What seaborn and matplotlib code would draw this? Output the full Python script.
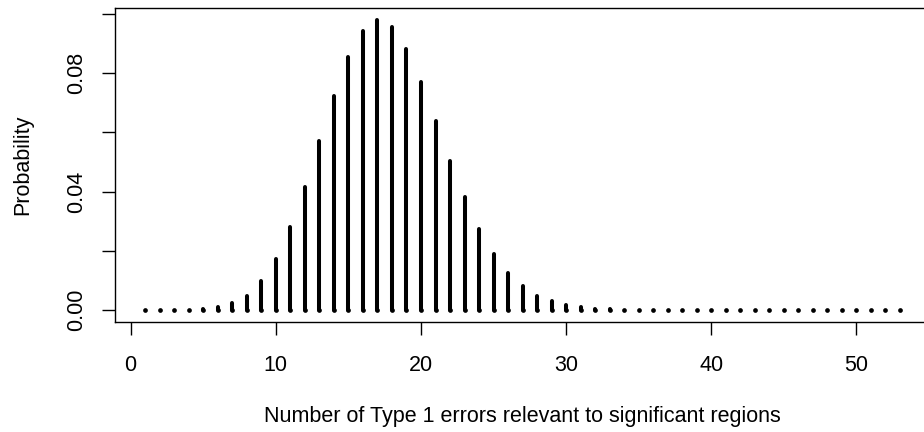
import numpy as np
import pandas as pd
import matplotlib
matplotlib.use("Agg")
import matplotlib.pyplot as plt
import seaborn as sns

# ---- data ----
errors = list(range(1, 54))
probability = [
    0.00001, 0.00002, 0.00005, 0.00015, 0.0004, 0.0011, 0.0025, 0.0049, 0.0097, 0.0172,
    0.0279, 0.0415, 0.0569, 0.0721, 0.0853, 0.0943, 0.0979, 0.0956, 0.0881, 0.0770,
    0.0639, 0.0504, 0.0380, 0.0273, 0.0189, 0.0125, 0.0080, 0.0049, 0.0029, 0.0017,
    0.0009, 0.0005, 0.00025, 0.00012, 0.00005, 0.00002, 0.00001, 0.00001, 0.00001, 0.00001,
    0.00001, 0.00001, 0.00001, 0.00001, 0.00001, 0.00001, 0.00001, 0.00001, 0.00001, 0.00001,
    0.00001, 0.00001, 0.00001,
]
x_ticks = [0, 10, 20, 30, 40, 50]
y_ticks = [0.00, 0.02, 0.04, 0.06, 0.08, 0.10]
y_ticklabels = ["0.00", "", "0.04", "", "0.08", ""]
x_label = "Number of Type 1 errors relevant to significant regions"
y_label = "Probability"

# long-form table: each x gives a vertical segment from 0 to its probability
df = pd.DataFrame({
    "x": errors + errors,
    "y": [0.0] * len(errors) + probability,
    "unit": errors + errors,
})
base = pd.DataFrame({"x": errors, "y": [0.0] * len(errors)})

sns.set_style("white")
plt.rcParams["font.family"] = ["Liberation Sans", "DejaVu Sans"]
plt.rcParams["path.simplify"] = False
FS = 15.5
LW = 2.9

W, H = 924, 432
fig = plt.figure(figsize=(W / 100, H / 100), dpi=100)
left_px, right_px, top_px, bottom_px = 115.0, 930.2, 8.3, 321.7
ax = fig.add_axes([left_px / W, (H - bottom_px) / H,
                   (right_px - left_px) / W, (bottom_px - top_px) / H])

sns.lineplot(data=df, x="x", y="y", units="unit", estimator=None, sort=False,
             color="black", lw=LW, solid_capstyle="round", legend=False, ax=ax)
# round end cap at the base of every spike (zero-height spikes show as dots)
sns.scatterplot(data=base, x="x", y="y", color="black", s=3.4 ** 2, marker="o",
                linewidth=0, legend=False, ax=ax, zorder=3)

xmin, xmax = min(errors), max(errors)
xr = xmax - xmin
ymax = max(probability)
ax.set_xlim(xmin - 0.04 * xr, xmax + 0.04 * xr)
ax.set_ylim(-0.04 * ymax, ymax * 1.04)

ax.set_xticks(x_ticks)
ax.set_xticklabels([str(t) for t in x_ticks], fontsize=FS)
ax.set_yticks(y_ticks)
ax.set_yticklabels(y_ticklabels, fontsize=FS, rotation=90, va="center")
ax.tick_params(axis="both", direction="out", length=9.4, width=1.0, color="black",
               labelcolor="black")
ax.tick_params(axis="x", pad=14.8, bottom=True)
ax.tick_params(axis="y", pad=10.4, left=True)
ax.set_xlabel("")
ax.set_ylabel("")

for s in ax.spines.values():
    s.set_color("black")
    s.set_linewidth(1.0)
    s.set_visible(True)

fig.text((left_px + right_px) / 2 / W, (H - 422) / H, x_label, ha="center",
         va="baseline", fontsize=FS, color="black")
fig.text(28.5 / W, (H - (top_px + bottom_px) / 2) / H, y_label, rotation=90,
         rotation_mode="anchor", ha="center", va="baseline", fontsize=FS, color="black")

fig.savefig("out.png", dpi=100, facecolor="white")
